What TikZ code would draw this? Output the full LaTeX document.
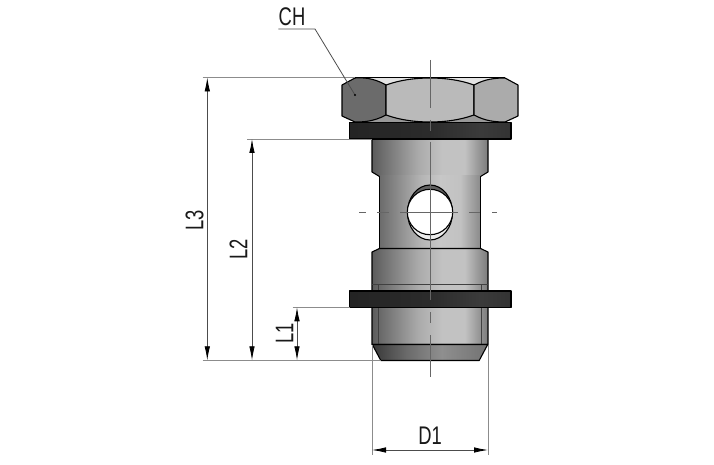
\documentclass[tikz,border=0pt]{standalone}
\usepackage{fontspec}
\setmainfont[FakeStretch=0.72]{Liberation Sans}
\usetikzlibrary{arrows.meta}
\pgfdeclarehorizontalshading{metal}{100bp}{color(0bp)=(black!64); color(25bp)=(black!64); color(45bp)=(black!33); color(55bp)=(black!24); color(65bp)=(black!24); color(75bp)=(black!52); color(100bp)=(black!52)}
\pgfdeclarehorizontalshading{waist}{100bp}{color(0bp)=(black!58); color(25bp)=(black!58); color(45bp)=(black!30); color(55bp)=(black!22); color(65bp)=(black!24); color(75bp)=(black!46); color(100bp)=(black!46)}
\pgfdeclarehorizontalshading{ringdark}{100bp}{color(0bp)=(black!86); color(25bp)=(black!86); color(50bp)=(black!83); color(65bp)=(black!77); color(75bp)=(black!80); color(100bp)=(black!80)}
\pgfdeclarehorizontalshading{tipshade}{100bp}{color(0bp)=(black!78); color(25bp)=(black!78); color(40bp)=(black!58); color(55bp)=(black!44); color(75bp)=(black!55); color(100bp)=(black!55)}
\tikzset{
 outline/.style={draw=black,line width=1.1pt,line join=round},
 thinline/.style={draw=black!75,line width=0.8pt},
 axisline/.style={draw=black!60,line width=0.9pt},
 extline/.style={draw=black!45,line width=0.9pt},
 dimline/.style={draw=black!70,line width=0.8pt,{Latex[length=14pt,width=5.5pt,black]}-{Latex[length=14pt,width=5.5pt,black]}},
 lbl/.style={font=\fontsize{25.5}{25.5}\selectfont,inner sep=0pt,text=black!90},
}
\begin{document}
\begin{tikzpicture}[x=1pt,y=-1pt]
\useasboundingbox (0,0) rectangle (714,465);
% hexagon base
\fill[black!40] (355,110) -- (505,110) -- (518,116) -- (505,122) -- (355,122) -- (342,116) -- cycle;
\fill[black!10] (355,77.5) -- (505,77.5) -- (518,85) -- (342,85) -- cycle;
% upper collar
\path[shade,shading=metal] (372,139) -- (372,172) -- (379.5,176.5) -- (480.5,176.5) -- (488,172) -- (488,139) -- cycle;
\draw[outline] (372,139) -- (372,172) -- (379.5,176.5) -- (480.5,176.5) -- (488,172) -- (488,139);
% waist
\path[shade,shading=waist] (379.5,176) rectangle (480.5,249);
\draw[outline] (379.5,176.5) -- (379.5,248.5) (480.5,176.5) -- (480.5,248.5);
% lower collar
\path[shade,shading=metal] (379.5,248.5) -- (480.5,248.5) -- (488,252) -- (488,344.5) -- (372,344.5) -- (372,252) -- cycle;
\draw[outline] (379.5,248.5) -- (480.5,248.5) -- (488,252) -- (488,344.5) -- (372,344.5) -- (372,252) -- cycle;
\draw[thinline] (372,284) -- (488,284) (378.5,284) -- (378.5,344) (481.5,284) -- (481.5,344);
\path[shade,shading=tipshade] (372.3,344.5) -- (380.8,360.5) -- (479.2,360.5) -- (487.7,344.5) -- cycle;
\draw[outline] (372.3,344.5) -- (380.8,360.5) -- (479.2,360.5) -- (487.7,344.5) -- cycle;
% hole
\fill[black!62] (430,212.5) ellipse[x radius=22.5,y radius=27.5];
\fill[black!8] (407.6,213) arc[start angle=180,end angle=0,x radius=22.4,y radius=27];
\draw[outline] (430,212.5) ellipse[x radius=22.5,y radius=27.5];
\fill[white,draw=black,line width=1.1pt] (430,212) circle[radius=22.7];
% washers
\path[shade,shading=ringdark] (349.5,122.7) rectangle (511,139);
\draw[outline] (349.5,122.7) rectangle (511,139);
\path[shade,shading=ringdark] (349.5,291) rectangle (511,307.5);
\draw[outline] (349.5,291) rectangle (511,307.5);
% hexagon facets
\filldraw[outline,fill=black!58] (342,85) -- (355,78) .. controls (362,77.5) and (373,77.5) .. (386,85) -- (386,115) .. controls (373,122) and (362,122) .. (355,122) -- (342,116) -- cycle;
\filldraw[outline,fill=black!27] (386,85) .. controls (400,80) and (415,78) .. (430,78) .. controls (445,78) and (460,80) .. (474,85) -- (474,115) .. controls (460,120) and (445,122) .. (430,122) .. controls (415,122) and (400,120) .. (386,115) -- cycle;
\filldraw[outline,fill=black!33] (474,85) .. controls (485,79) and (495,78) .. (505,78) -- (518,85) -- (518,116) -- (505,122) .. controls (495,122) and (485,121) .. (474,115) -- cycle;
\draw[outline] (355,77.5) -- (505,77.5);
% axes
\draw[axisline] (430,60) -- (430,108) (430,120) -- (430,131) (430,142) -- (430,300) (430,312) -- (430,323) (430,335) -- (430,376.5);
\draw[axisline] (359,212.3) -- (366,212.3) (377,212.3) -- (389,212.3) (400,212.3) -- (458,212.3) (469,212.3) -- (480,212.3) (492,212.3) -- (497,212.3);
% extension lines
\coordinate (l3top) at (202.5,77.5); \coordinate (l3topin) at (355,77.5);
\coordinate (l2top) at (247,139); \coordinate (l2topin) at (372,139);
\coordinate (l1top) at (292.5,307.3); \coordinate (l1topin) at (349.5,307.3);
\coordinate (base) at (202.5,360.3); \coordinate (basein) at (381,360.3);
\draw[extline] (l3top) -- (l3topin);
\draw[extline] (l2top) -- (l2topin);
\draw[extline] (l1top) -- (l1topin);
\draw[extline] (base) -- (basein);
\coordinate (dl) at (372,345); \coordinate (dlb) at (372,455);
\coordinate (dr) at (488,345); \coordinate (drb) at (488,455);
\draw[extline] (dl) -- (dlb);
\draw[extline] (dr) -- (drb);
% dimensions
\coordinate (a3t) at (207.3,77.5); \coordinate (a3b) at (207.3,360.3);
\coordinate (a2t) at (252,139); \coordinate (a2b) at (252,360.3);
\coordinate (a1t) at (297,307.3); \coordinate (a1b) at (297,360.3);
\coordinate (adl) at (372,450); \coordinate (adr) at (488,450);
\draw[dimline] (a3t) -- (a3b);
\draw[dimline] (a2t) -- (a2b);
\draw[dimline] (a1t) -- (a1b);
\draw[dimline] (adl) -- (adr);
% labels
\node[lbl,rotate=90] (L3) at (194.5,220) {L3};
\node[lbl,rotate=90] (L2) at (238.5,249) {L2};
\node[lbl,rotate=90] (L1) at (284.5,333.5) {L1};
\node[lbl] (D1) at (430,436) {D1};
\node[lbl] (CH) at (292,16.5) {CH};
% leader
\coordinate (lead0) at (278.3,29); \coordinate (lead1) at (315,29); \coordinate (lead2) at (355,95);
\draw[draw=black!70,line width=0.8pt] (lead0) -- (lead1) -- (lead2);
\fill[black] (lead2) circle[radius=1.1];
\end{tikzpicture}
\end{document}
